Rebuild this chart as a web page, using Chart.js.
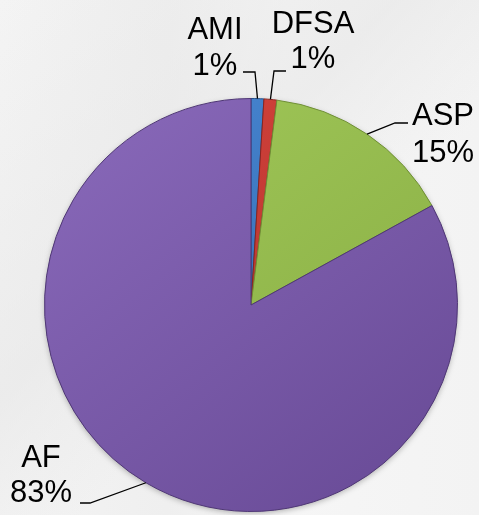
<!DOCTYPE html>
<html>
<head>
<meta charset="utf-8">
<script src="https://cdn.jsdelivr.net/npm/chart.js@4/dist/chart.umd.min.js"></script>
<style>
    html, body { margin: 0; padding: 0; }
    body {
        width: 479px;
        height: 515px;
        overflow: hidden;
        background:
            linear-gradient(135deg, rgba(255,255,255,0) 0%, rgba(230,230,230,0.6) 40%, rgba(255,255,255,0) 60%),
            linear-gradient(90deg, #f4f4f4 0%, #efefef 35%, #f6f6f6 60%, #f3f3f3 100%);
    }
    #wrap { position: relative; width: 479px; height: 515px; }
</style>
</head>
<body>
<div id="wrap"><canvas id="pie" width="479" height="515"></canvas></div>
<script>
"use strict";

const categories = ["AMI", "DFSA", "ASP", "AF"];
const shares = [1, 1, 15, 83];

// top / bottom shades per slice
const lightColors = ["#4a8ad6", "#d9443d", "#a2c95a", "#8a6abb"];
const darkColors = ["#2f64a8", "#a8302b", "#88ad43", "#6a4c98"];
const edgeColors = ["#24508a", "#8a2520", "#6f8f35", "#4f3775"];

// where each label's text sits and where its leader line starts
const labelSpots = [
    { x: 215, y1: 39, y2: 75, lx: [243, 255], ly: 72 },
    { x: 313, y1: 33, y2: 68, lx: [286, 274], ly: 71 },
    { x: 443, y1: 125, y2: 162, lx: [408, 395], ly: 123 },
    { x: 41, y1: 467, y2: 502, lx: [80, 90], ly: 503 }
];

function sliceFill(context, set) {
    const chart = context.chart;
    const area = chart.chartArea;
    if (!area) return set[context.dataIndex];
    let g = chart.ctx.createLinearGradient(area.left, area.top, area.right * 0.8, area.bottom);
    g.addColorStop(0, lightColors[context.dataIndex]);
    g.addColorStop(1, darkColors[context.dataIndex]);
    return g;
}

const pieLabels = {
    id: "pieLabels",
    afterDatasetsDraw(chart) {
        const ctx = chart.ctx;
        const arcs = chart.getDatasetMeta(0).data;
        ctx.save();
        ctx.font = "31px 'Liberation Sans', Arial, sans-serif";
        ctx.fillStyle = "#000";
        ctx.textAlign = "center";
        ctx.textBaseline = "alphabetic";
        arcs.forEach(function (arc, i) {
            let spot = labelSpots[i];
            let mid = (arc.startAngle + arc.endAngle) / 2;
            let ex = arc.x + Math.cos(mid) * arc.outerRadius;
            let ey = arc.y + Math.sin(mid) * arc.outerRadius;

            ctx.strokeStyle = "#000";
            ctx.lineWidth = 1.3;
            ctx.beginPath();
            ctx.moveTo(spot.lx[0], spot.ly);
            ctx.lineTo(spot.lx[1], spot.ly);
            ctx.lineTo(ex, ey);
            ctx.stroke();

            ctx.fillText(categories[i], spot.x, spot.y1);
            ctx.fillText(shares[i] + "%", spot.x, spot.y2);
        });
        ctx.restore();
    }
};

const pieShadow = {
    id: "pieShadow",
    beforeDatasetsDraw(chart) {
        const ctx = chart.ctx;
        const arc = chart.getDatasetMeta(0).data[0];
        if (!arc) return;
        ctx.save();
        ctx.shadowColor = "rgba(0,0,0,0.35)";
        ctx.shadowBlur = 6;
        ctx.shadowOffsetY = 2;
        ctx.fillStyle = "#6a4c98";
        ctx.beginPath();
        ctx.arc(arc.x, arc.y, arc.outerRadius - 1, 0, Math.PI * 2);
        ctx.fill();
        ctx.restore();
    }
};

new Chart(document.getElementById("pie"), {
    type: "pie",
    data: {
        labels: categories,
        datasets: [{
            data: shares,
            backgroundColor: function (c) { return sliceFill(c, lightColors); },
            borderColor: edgeColors,
            borderWidth: 1
        }]
    },
    options: {
        responsive: false,
        animation: false,
        layout: {
            padding: { top: 98, bottom: 3, left: 44, right: 21 }
        },
        plugins: {
            legend: { display: false },
            tooltip: { enabled: false }
        }
    },
    plugins: [pieShadow, pieLabels]
});
</script>
</body>
</html>
